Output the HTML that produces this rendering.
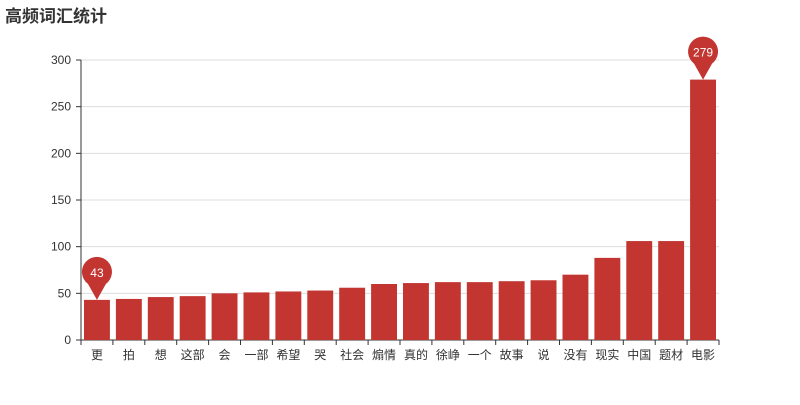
<!DOCTYPE html>
<html><head><meta charset="utf-8"><style>
body{margin:0;background:#fff;font-family:"Liberation Sans","Noto Sans CJK SC",sans-serif}
</style></head><body>
<svg id="c" width="800" height="400" xmlns="http://www.w3.org/2000/svg">
<text x="5" y="22" font-size="17" font-weight="bold" fill="#333" font-family="Liberation Sans, Noto Sans CJK SC, sans-serif">高频词汇统计</text>
</svg>
<script>
const categories=["更","拍","想","这部","会","一部","希望","哭","社会","煽情","真的","徐峥","一个","故事","说","没有","现实","中国","题材","电影"];
const values=[43,44,46,47,50,51,52,53,56,60,61,62,62,63,64,70,88,106,106,279];
const yTicks=[0,50,100,150,200,250,300];
const svg=document.getElementById('c');
const NS='http://www.w3.org/2000/svg';
const L=81,R=719,T=60,B=340,YMAX=300;
const y=v=>B-(v/YMAX)*(B-T);
const bw=(R-L)/categories.length;
const x=i=>L+i*bw;
function mk(t,a,p){const e=document.createElementNS(NS,t);for(const k in a)e.setAttribute(k,a[k]);(p||svg).appendChild(e);return e;}
yTicks.forEach(v=>{
  const g=mk('line',{x1:L,x2:R,y1:y(v),y2:y(v),stroke:v===0?'#333':'#ddd','stroke-width':1});
  
  
  mk('line',{x1:L-5,x2:L,y1:y(v),y2:y(v),stroke:'#333'});
  const t=mk('text',{x:L-10,y:y(v)+4,'text-anchor':'end','font-size':12,fill:'#333'});
  t.textContent=v;
  
  
});
mk('line',{x1:L,x2:L,y1:T,y2:B,stroke:'#333'});
categories.forEach((c,i)=>{
  const r=mk('rect',{x:x(i)+3,y:y(values[i]),width:bw-6,height:B-y(values[i]),fill:'#c23531'});
  
  
  mk('line',{x1:x(i),x2:x(i),y1:B,y2:B+5,stroke:'#333'});
  const t=mk('text',{x:x(i)+bw/2,y:B+19,'text-anchor':'middle','font-size':12,fill:'#333'});
  t.textContent=c;
  
  
});
mk('line',{x1:R,x2:R,y1:B,y2:B+5,stroke:'#333'});
const mi=values.indexOf(Math.min(...values)), ma=values.indexOf(Math.max(...values));
[mi,ma].forEach(i=>{
  const cx=x(i)+bw/2, ty=y(values[i]), cy=ty-27, r=15;
  const p=mk('path',{d:`M${cx} ${ty} L${cx-9} ${cy+11} A${r} ${r} 0 1 1 ${cx+9} ${cy+11} Z`,fill:'#c23531'});
  
  
  const t=mk('text',{x:cx,y:cy+4,'text-anchor':'middle','font-size':12,fill:'#fff'});
  t.textContent=values[i];
  
  
});
</script>
</body></html>
